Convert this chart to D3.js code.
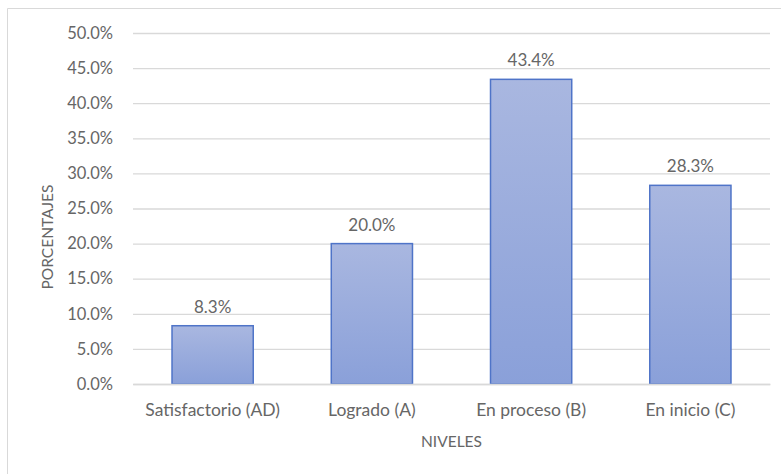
<!DOCTYPE html>
<html>
<head>
<meta charset="utf-8">
<script src="https://cdn.jsdelivr.net/npm/d3@7"></script>
<style>
  html, body { margin: 0; padding: 0; background: #fff; }
  svg { display: block; }
  text { font-family: Lato, "Open Sans", sans-serif; fill: #666666; }
</style>
</head>
<body>
<svg id="chart" width="781" height="474"></svg>
<script>
// Niveles de logro y porcentaje de estudiantes
const categories = ["Satisfactorio (AD)", "Logrado (A)", "En proceso (B)", "En inicio (C)"];
const values = [8.3, 20.0, 43.4, 28.3];
const yTicks = [0, 5, 10, 15, 20, 25, 30, 35, 40, 45, 50];
const xTitle = "NIVELES";
const yTitle = "PORCENTAJES";

const svg = d3.select("#chart");
const W = 781, H = 474;
const m = { left: 133, right: 11, top: 33, bottom: 90 };
const textColor = "#666666";

// outer chart frame (left and top edges visible)
svg.append("path")
  .attr("d", `M7.5,${H} V8.5 H${W}`)
  .attr("fill", "none")
  .attr("stroke", "#d9d9d9")
  .attr("stroke-width", 1);

const x = d3.scaleBand()
  .domain(categories)
  .range([m.left, W - m.right])
  .paddingInner(0.49)
  .paddingOuter(0.245);

const y = d3.scaleLinear()
  .domain([0, 50])
  .range([H - m.bottom, m.top]);

// gradient fill for bars
const defs = svg.append("defs");
const grad = defs.append("linearGradient")
  .attr("id", "barFill")
  .attr("x1", 0).attr("y1", 0).attr("x2", 0).attr("y2", 1);
grad.append("stop").attr("offset", "0%").attr("stop-color", "#a9b7e0");
grad.append("stop").attr("offset", "100%").attr("stop-color", "#8aa0d9");

// y axis with gridlines
const yAxis = d3.axisLeft(y)
  .tickValues(yTicks)
  .tickFormat(d => d.toFixed(1) + "%")
  .tickSize(-(W - m.left - m.right))
  .tickPadding(20);

const gy = svg.append("g")
  .attr("transform", `translate(${m.left},0)`)
  .call(yAxis);
gy.select(".domain").remove();
gy.selectAll(".tick line").attr("stroke", "#d9d9d9").attr("stroke-width", 1.3);
gy.selectAll(".tick text")
  .attr("font-size", 16.5)
  .style("font-family", "Lato, 'Open Sans', sans-serif")
  .attr("fill", textColor);

// bars
svg.append("g")
  .selectAll("rect")
  .data(values)
  .join("rect")
  .attr("x", (d, i) => x(categories[i]))
  .attr("y", d => y(d))
  .attr("width", x.bandwidth())
  .attr("height", d => y(0) - y(d))
  .attr("fill", "url(#barFill)")
  .attr("stroke", "#4f74c8")
  .attr("stroke-width", 1.5);

// value labels
svg.append("g")
  .selectAll("text")
  .data(values)
  .join("text")
  .attr("x", (d, i) => x(categories[i]) + x.bandwidth() / 2)
  .attr("y", d => y(d) - 13)
  .attr("text-anchor", "middle")
  .attr("font-size", 17)
  .text(d => d.toFixed(1) + "%");

// x axis labels
const xAxis = d3.axisBottom(x).tickSize(0).tickPadding(20);
const gx = svg.append("g")
  .attr("transform", `translate(0,${y(0)})`)
  .call(xAxis);
gx.select(".domain").attr("stroke", "#d9d9d9").attr("stroke-width", 1.3);
gx.selectAll(".tick text")
  .attr("font-size", 17.5)
  .style("font-family", "Lato, 'Open Sans', sans-serif")
  .attr("fill", textColor);

// axis titles
svg.append("text")
  .attr("x", (m.left + W - m.right) / 2)
  .attr("y", 447)
  .attr("text-anchor", "middle")
  .attr("font-size", 15.5)
  .text(xTitle);

svg.append("text")
  .attr("transform", "translate(53,237) rotate(-90)")
  .attr("text-anchor", "middle")
  .attr("font-size", 15.5)
  .text(yTitle);
</script>
</body>
</html>
